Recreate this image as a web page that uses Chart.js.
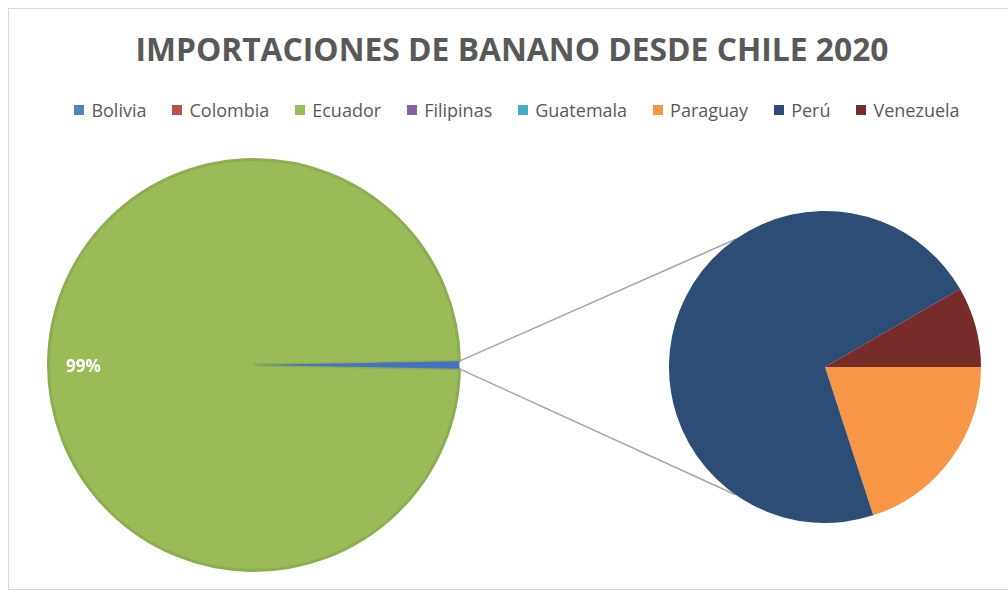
<!DOCTYPE html>
<html>
<head>
<meta charset="utf-8">
<script src="https://cdn.jsdelivr.net/npm/chart.js@4.4.1/dist/chart.umd.min.js"></script>
<style>
  body { margin: 0; background: #fff; font-family: 'Open Sans', 'Noto Sans', sans-serif; }
  .wrap { position: relative; width: 1008px; height: 598px; overflow: hidden; }
  .frame { position: absolute; left: 8px; top: 8px; width: 1100px; height: 582px; border: 1px solid #d9d9d9; box-sizing: border-box; }
  canvas { position: absolute; }
  #mainPie { left: 0; top: 0; }
  #subPie { left: 669px; top: 211px; }
  .title { position: absolute; left: 0; top: 29px; width: 1024px; text-align: center; color: #595959;
           font-size: 31.8px; font-weight: bold; line-height: 40px; white-space: nowrap; }
  .legend { position: absolute; left: 0; top: 98px; width: 1034px; display: flex; justify-content: center;
            color: #595959; font-size: 18px; line-height: 24px; }
  .legend span { display: flex; align-items: center; margin: 0 13px; }
  .legend i { display: inline-block; width: 10px; height: 10px; margin-right: 7px; }
</style>
</head>
<body>
<div class="wrap">
  <div class="frame"></div>
  <div class="title" id="title"></div>
  <div class="legend" id="legend"></div>
  <canvas id="mainPie" width="1008" height="598"></canvas>
  <canvas id="subPie" width="312" height="312"></canvas>
</div>
<script>
// data (share of imports, %)
const categories = ['Bolivia', 'Colombia', 'Ecuador', 'Filipinas', 'Guatemala', 'Paraguay', 'Perú', 'Venezuela'];
const values = [0, 0, 99.4, 0, 0, 0.12, 0.43, 0.05];
const colors = ['#4F81BD', '#C0504D', '#9BBB59', '#8064A2', '#4BACC6', '#F79646', '#2C4D75', '#772C2A'];

// countries shown in the second pie, clockwise from 3 o'clock
const secondPlot = ['Paraguay', 'Perú', 'Venezuela'];
const otherColor = '#4472C4';

const titleText = 'IMPORTACIONES DE BANANO DESDE CHILE 2020';
const fontFamily = "'Open Sans', 'Noto Sans', sans-serif";

document.getElementById('title').textContent = titleText;
const $legend = document.getElementById('legend');
categories.forEach((c, i) => {
  const $item = document.createElement('span');
  const $box = document.createElement('i');
  $box.style.background = colors[i];
  $item.appendChild($box);
  $item.appendChild(document.createTextNode(c));
  $legend.appendChild($item);
});

// build the first pie (everything not in the second plot + "Otro")
const mainLabels = [];
const mainValues = [];
const mainColors = [];
categories.forEach((c, i) => {
  if (!secondPlot.includes(c)) {
    mainLabels.push(c);
    mainValues.push(values[i]);
    mainColors.push(colors[i]);
  }
});
const otherValue = secondPlot.reduce((s, c) => s + values[categories.indexOf(c)], 0);
mainLabels.push('Otro');
mainValues.push(otherValue);
mainColors.push(otherColor);

const total = mainValues.reduce((a, b) => a + b, 0);
const otherDeg = otherValue / total * 360;

const subValues = secondPlot.map(c => values[categories.indexOf(c)]);
const subColors = secondPlot.map(c => colors[categories.indexOf(c)]);

const subCanvas = document.getElementById('subPie');
const subChart = new Chart(subCanvas, {
  type: 'pie',
  data: {
    labels: secondPlot,
    datasets: [{
      data: subValues,
      backgroundColor: subColors,
      borderWidth: 0
    }]
  },
  options: {
    responsive: false,
    animation: false,
    rotation: 90,
    plugins: {
      legend: { display: false },
      tooltip: { enabled: false }
    }
  }
});

// percent label on the big slice
const pctLabel = {
  id: 'pctLabel',
  afterDatasetsDraw(chart) {
    const meta = chart.getDatasetMeta(0);
    const idx = mainLabels.indexOf('Ecuador');
    const arc = meta.data[idx];
    const mid = (arc.startAngle + arc.endAngle) / 2;
    const r = arc.outerRadius * 0.83;
    const ctx = chart.ctx;
    ctx.save();
    ctx.fillStyle = '#ffffff';
    ctx.font = "bold 17px " + fontFamily;
    ctx.textAlign = 'center';
    ctx.textBaseline = 'middle';
    const pct = Math.round(mainValues[idx] / total * 100) + '%';
    ctx.fillText(pct, arc.x + Math.cos(mid) * r, arc.y + Math.sin(mid) * r + 2);
    ctx.restore();
  }
};

// grey lines from the "Otro" slice to the second pie
const connectors = {
  id: 'connectors',
  afterDatasetsDraw(chart) {
    const other = chart.getDatasetMeta(0).data[mainLabels.length - 1];
    const sub = subChart.getDatasetMeta(0).data[0];
    const sx = sub.x + subCanvas.offsetLeft;
    const sy = sub.y + subCanvas.offsetTop;
    const R = other.outerRadius;
    const a1 = other.startAngle, a2 = other.endAngle;
    const spread = 125 * Math.PI / 180;
    const ctx = chart.ctx;
    ctx.save();
    ctx.strokeStyle = '#A6A6A6';
    ctx.lineWidth = 1.5;
    ctx.beginPath();
    ctx.moveTo(other.x + Math.cos(a1) * R, other.y + Math.sin(a1) * R);
    ctx.lineTo(sx + Math.cos(-spread) * sub.outerRadius, sy + Math.sin(-spread) * sub.outerRadius);
    ctx.moveTo(other.x + Math.cos(a2) * R, other.y + Math.sin(a2) * R);
    ctx.lineTo(sx + Math.cos(spread) * sub.outerRadius, sy + Math.sin(spread) * sub.outerRadius);
    ctx.stroke();
    ctx.restore();
  }
};

new Chart(document.getElementById('mainPie'), {
  type: 'pie',
  data: {
    labels: mainLabels,
    datasets: [{
      data: mainValues,
      backgroundColor: mainColors,
      borderColor: mainLabels.map(l => l === 'Ecuador' ? '#8DAD50' : 'rgba(0,0,0,0)'),
      borderWidth: mainLabels.map(l => l === 'Ecuador' ? 3 : 0)
    }]
  },
  options: {
    responsive: false,
    animation: false,
    rotation: 90 + otherDeg / 2,
    layout: { padding: { left: 47, right: 547, top: 158, bottom: 26 } },
    plugins: {
      legend: { display: false },
      title: { display: false },
      tooltip: { enabled: false }
    }
  },
  plugins: [pctLabel, connectors]
});
</script>
</body>
</html>
